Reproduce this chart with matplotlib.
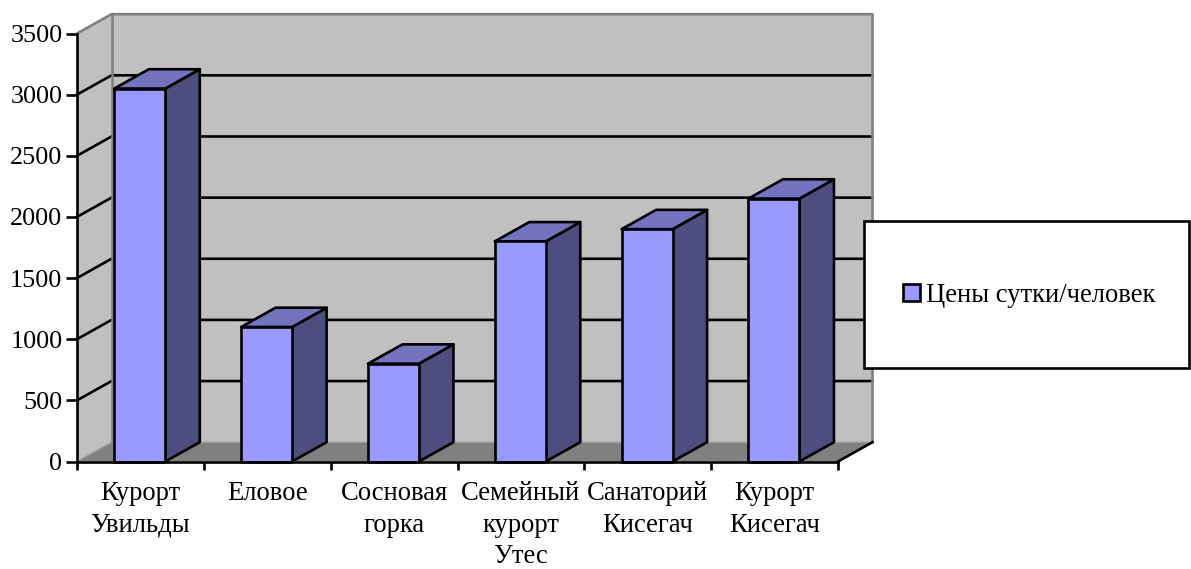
# Excel style 3D column chart, walls and bars built on a normal 2D axes
import matplotlib
matplotlib.use('Agg')
import matplotlib.pyplot as plt
from matplotlib.patches import Polygon, Rectangle

categories = ['Курорт\nУвильды', 'Еловое', 'Сосновая\nгорка', 'Семейный\nкурорт\nУтес',
              'Санаторий\nКисегач', 'Курорт\nКисегач']
prices = [3050, 1100, 800, 1800, 1900, 2150]
yticks = [0, 500, 1000, 1500, 2000, 2500, 3000, 3500]
series_name = 'Цены сутки/человек'

W, H = 1191, 569
plt.rcParams['font.family'] = ['Liberation Serif', 'DejaVu Sans']
fig = plt.figure(figsize=(W / 100, H / 100), dpi=100)
ax = fig.add_axes([77 / W, (H - 461.5) / H, 761 / W, 428 / H])
ax.set_xlim(0, len(categories))
ax.set_ylim(0, 3500)

# depth of the box, in data units
dx = 34.5 / (761 / 6)
dy = 19.3 / (428 / 3500)
xmax = len(categories)
lw = 1.9
fs = 19.2

# walls and floor
ax.add_patch(Polygon([(0, 0), (dx, dy), (dx, 3500 + dy), (0, 3500)], fc='#C0C0C0', ec='none', clip_on=False, zorder=1))
ax.add_patch(Polygon([(dx, dy), (xmax + dx, dy), (xmax + dx, 3500 + dy), (dx, 3500 + dy)], fc='#C0C0C0', ec='none', clip_on=False, zorder=1))
ax.add_patch(Polygon([(0, 0), (dx, dy), (xmax + dx, dy), (xmax, 0)], fc='#808080', ec='none', clip_on=False, zorder=1))

# gridlines on side and back wall
for v in yticks[1:-1]:
    ax.plot([0, dx, xmax + dx], [v, v + dy, v + dy], color='black', lw=lw, clip_on=False, zorder=2)

# wall edges
ax.plot([0, dx, xmax + dx, xmax + dx], [3500, 3500 + dy, 3500 + dy, dy], color='#808080', lw=lw, clip_on=False, zorder=3)
ax.plot([dx, dx], [dy, 3500 + dy], color='#808080', lw=lw, clip_on=False, zorder=3)
ax.plot([0, dx, xmax + dx], [0, dy, dy], color='#A0A0A0', lw=1.0, clip_on=False, zorder=3)
ax.plot([xmax, xmax + dx], [0, dy], color='black', lw=lw, clip_on=False, zorder=3)

# bars: front face, top and side
bar_w = 0.402
for i, v in enumerate(prices):
    x0 = i + 0.5 - bar_w / 2 - 0.005
    x1 = x0 + bar_w
    ax.add_patch(Polygon([(x1, 0), (x1 + dx, dy), (x1 + dx, v + dy), (x1, v)], fc='#4D4D80', ec='black', lw=lw, joinstyle='round', clip_on=False, zorder=4))
    ax.add_patch(Polygon([(x0, v), (x0 + dx, v + dy), (x1 + dx, v + dy), (x1, v)], fc='#7373BF', ec='black', lw=lw, joinstyle='round', clip_on=False, zorder=4))
    ax.add_patch(Polygon([(x0, 0), (x1, 0), (x1, v), (x0, v)], fc='#9999FF', ec='black', lw=lw, joinstyle='round', clip_on=False, zorder=5))

# axes
for s in ['top', 'right']:
    ax.spines[s].set_visible(False)
for s in ['left', 'bottom']:
    ax.spines[s].set_linewidth(lw)
    ax.spines[s].set_zorder(6)
ax.patch.set_visible(False)
ax.set_yticks(yticks)
ax.tick_params(axis='y', length=8, width=lw, labelsize=18.8, pad=2.5)
ax.set_xticks(range(xmax + 1))
ax.set_xticklabels([])
ax.set_xticks([i + 0.5 for i in range(xmax)], labels=categories, minor=True)
ax.tick_params(axis='x', which='major', length=6, width=lw)
ax.tick_params(axis='x', which='minor', length=0, labelsize=fs, pad=14)
for t in ax.get_xticklabels(minor=True):
    t.set_linespacing(1.35)

# legend box
fig.add_artist(Rectangle((863.5 / W, (H - 368) / H), 325 / W, 147 / H, transform=fig.transFigure,
                         fc='white', ec='black', lw=lw, zorder=10))
fig.add_artist(Rectangle((902.5 / W, (H - 301) / H), 17 / W, 17 / H, transform=fig.transFigure,
                         fc='#9999FF', ec='black', lw=lw, zorder=11))
fig.text(926 / W, (H - 295) / H, series_name, fontsize=fs, va='center', ha='left', zorder=11)

fig.savefig('out.png', dpi=100)
